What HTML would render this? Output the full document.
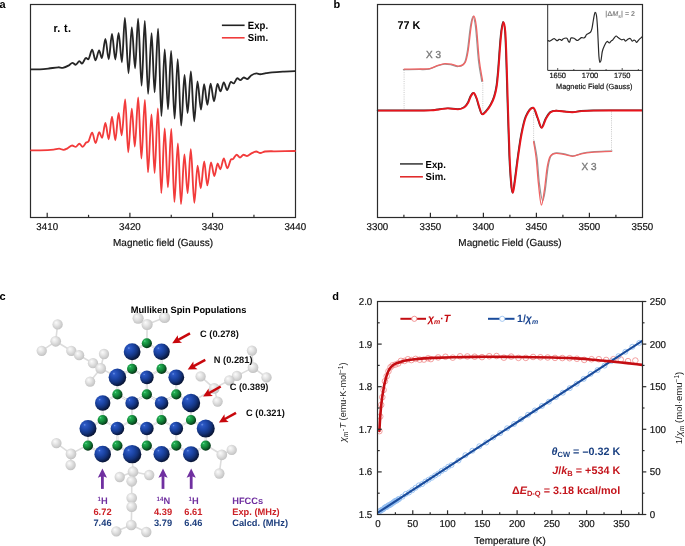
<!DOCTYPE html>
<html><head><meta charset="utf-8"><title>Figure</title>
<style>html,body{margin:0;padding:0;background:#fff;}body{width:685px;height:546px;overflow:hidden;font-family:"Liberation Sans",sans-serif;}svg{display:block;will-change:transform;}</style>
</head><body>
<svg width="685" height="546" viewBox="0 0 685 546" font-family="'Liberation Sans', sans-serif"><defs>
<radialGradient id="gbl" cx="0.36" cy="0.34" r="0.78" fx="0.3" fy="0.28">
<stop offset="0" stop-color="#6e96e8"/><stop offset="0.1" stop-color="#2c58c4"/><stop offset="0.38" stop-color="#1b44a4"/><stop offset="0.6" stop-color="#14337c"/><stop offset="0.8" stop-color="#0b1c48"/><stop offset="1" stop-color="#040814"/></radialGradient>
<radialGradient id="ggr" cx="0.36" cy="0.34" r="0.78" fx="0.3" fy="0.28">
<stop offset="0" stop-color="#74e6a0"/><stop offset="0.12" stop-color="#24ae56"/><stop offset="0.38" stop-color="#16923e"/><stop offset="0.6" stop-color="#0e6e30"/><stop offset="0.8" stop-color="#07441c"/><stop offset="1" stop-color="#021a0a"/></radialGradient>
<radialGradient id="gg" cx="0.45" cy="0.45" r="0.6" fx="0.35" fy="0.32">
<stop offset="0" stop-color="#fbfbfb"/><stop offset="0.4" stop-color="#e6e6e6"/><stop offset="0.82" stop-color="#cbcbcb"/><stop offset="1" stop-color="#bababa"/></radialGradient>
</defs>
<rect width="685" height="546" fill="#fff"/>
<g stroke="#dcdcdc" stroke-width="1.6" stroke-linecap="round">
<line x1="146.9" y1="343" x2="147.1" y2="324.5"/>
<line x1="147.1" y1="324.5" x2="138.1" y2="318.3"/>
<line x1="147.1" y1="324.5" x2="164.6" y2="317.5"/>
<line x1="57.6" y1="324.4" x2="55.7" y2="341.3"/>
<line x1="55.7" y1="341.3" x2="41.7" y2="350.8"/>
<line x1="55.7" y1="341.3" x2="71.3" y2="350.8"/>
<line x1="71.3" y1="350.8" x2="79.1" y2="355.2"/>
<line x1="79.1" y1="355.2" x2="93" y2="363.2"/>
<line x1="93" y1="363.2" x2="100.7" y2="368.4"/>
<line x1="100.7" y1="368.4" x2="104" y2="354"/>
<line x1="100.7" y1="368.4" x2="90.1" y2="381.6"/>
<line x1="100.7" y1="368.4" x2="117.4" y2="377"/>
<line x1="251.9" y1="350.6" x2="253" y2="367.6"/>
<line x1="253" y1="367.6" x2="266.5" y2="377.4"/>
<line x1="253" y1="367.6" x2="236.9" y2="375.9"/>
<line x1="236.9" y1="375.9" x2="229.3" y2="380.3"/>
<line x1="229.3" y1="380.3" x2="214.2" y2="388.4"/>
<line x1="214.2" y1="388.4" x2="200.6" y2="376.4"/>
<line x1="214.2" y1="388.4" x2="217.6" y2="401.6"/>
<line x1="214.2" y1="388.4" x2="191.15" y2="402.5"/>
<line x1="87.9" y1="445" x2="71" y2="453.9"/>
<line x1="71" y1="453.9" x2="56.4" y2="443.1"/>
<line x1="71" y1="453.9" x2="70.6" y2="465"/>
<line x1="132.15" y1="453.5" x2="133" y2="471.7"/>
<line x1="133" y1="471.7" x2="119.7" y2="477"/>
<line x1="133" y1="471.7" x2="149.2" y2="475"/>
<line x1="133" y1="471.7" x2="131.7" y2="481.3"/>
<line x1="131.7" y1="481.3" x2="131.7" y2="498"/>
<line x1="131.7" y1="498" x2="131.7" y2="506.7"/>
<line x1="131.7" y1="506.7" x2="131.3" y2="525"/>
<line x1="131.3" y1="525" x2="116.3" y2="531.3"/>
<line x1="131.3" y1="525" x2="146.3" y2="532"/>
<line x1="205.9" y1="445" x2="221.8" y2="454.8"/>
<line x1="221.8" y1="454.8" x2="231.7" y2="449.9"/>
<line x1="221.8" y1="454.8" x2="219.3" y2="473.5"/>
</g>
<circle cx="138.1" cy="318.3" r="5.55" fill="url(#gg)"/>
<circle cx="147.1" cy="324.5" r="5.55" fill="url(#gg)"/>
<circle cx="164.6" cy="317.5" r="5.55" fill="url(#gg)"/>
<circle cx="57.6" cy="324.4" r="5.15" fill="url(#gg)"/>
<circle cx="55.7" cy="341.3" r="5.35" fill="url(#gg)"/>
<circle cx="41.7" cy="350.8" r="5.15" fill="url(#gg)"/>
<circle cx="71.3" cy="350.8" r="5.15" fill="url(#gg)"/>
<circle cx="79.1" cy="355.2" r="5.15" fill="url(#gg)"/>
<circle cx="93" cy="363.2" r="5.15" fill="url(#gg)"/>
<circle cx="100.7" cy="368.4" r="5.35" fill="url(#gg)"/>
<circle cx="104" cy="354" r="5.15" fill="url(#gg)"/>
<circle cx="90.1" cy="381.6" r="5.15" fill="url(#gg)"/>
<circle cx="251.9" cy="350.6" r="5.15" fill="url(#gg)"/>
<circle cx="253" cy="367.6" r="5.35" fill="url(#gg)"/>
<circle cx="266.5" cy="377.4" r="5.15" fill="url(#gg)"/>
<circle cx="236.9" cy="375.9" r="5.15" fill="url(#gg)"/>
<circle cx="229.3" cy="380.3" r="5.15" fill="url(#gg)"/>
<circle cx="214.2" cy="388.4" r="5.35" fill="url(#gg)"/>
<circle cx="200.6" cy="376.4" r="5.15" fill="url(#gg)"/>
<circle cx="217.6" cy="401.6" r="5.15" fill="url(#gg)"/>
<circle cx="56.4" cy="443.1" r="5.15" fill="url(#gg)"/>
<circle cx="71" cy="453.9" r="5.35" fill="url(#gg)"/>
<circle cx="70.6" cy="465" r="5.15" fill="url(#gg)"/>
<circle cx="133" cy="471.7" r="5.35" fill="url(#gg)"/>
<circle cx="119.7" cy="477" r="5.15" fill="url(#gg)"/>
<circle cx="149.2" cy="475" r="5.15" fill="url(#gg)"/>
<circle cx="131.7" cy="481.3" r="5.35" fill="url(#gg)"/>
<circle cx="131.7" cy="498" r="5.35" fill="url(#gg)"/>
<circle cx="131.7" cy="506.7" r="5.35" fill="url(#gg)"/>
<circle cx="131.3" cy="525" r="5.35" fill="url(#gg)"/>
<circle cx="116.3" cy="531.3" r="5.15" fill="url(#gg)"/>
<circle cx="146.3" cy="532" r="5.15" fill="url(#gg)"/>
<circle cx="221.8" cy="454.8" r="5.35" fill="url(#gg)"/>
<circle cx="231.7" cy="449.9" r="5.15" fill="url(#gg)"/>
<circle cx="219.3" cy="473.5" r="5.15" fill="url(#gg)"/>
<g stroke="#d2d2d2" stroke-width="2.0" stroke-linecap="round">
<line x1="146.8" y1="394.4" x2="161.6" y2="403"/>
<line x1="191" y1="420" x2="205.7" y2="428.5"/>
<line x1="132.1" y1="351.8" x2="132.1" y2="368.8"/>
<line x1="146.8" y1="377.4" x2="146.8" y2="394.4"/>
<line x1="161.6" y1="402.9" x2="176.3" y2="394.4"/>
<line x1="146.8" y1="343.2" x2="161.6" y2="351.8"/>
<line x1="161.6" y1="351.8" x2="161.6" y2="368.8"/>
<line x1="102.7" y1="420" x2="117.4" y2="428.5"/>
<line x1="146.8" y1="428.5" x2="161.6" y2="420"/>
<line x1="117.4" y1="377.4" x2="132.1" y2="368.8"/>
<line x1="117.4" y1="394.4" x2="132.1" y2="403"/>
<line x1="161.6" y1="403" x2="161.6" y2="420"/>
<line x1="132.1" y1="351.8" x2="146.8" y2="343.2"/>
<line x1="88" y1="428.5" x2="102.7" y2="420"/>
<line x1="191" y1="403" x2="191" y2="420"/>
<line x1="161.6" y1="368.8" x2="176.3" y2="377.4"/>
<line x1="205.7" y1="428.5" x2="205.7" y2="445.6"/>
<line x1="88" y1="445.6" x2="102.7" y2="454.1"/>
<line x1="132.1" y1="402.9" x2="146.8" y2="394.4"/>
<line x1="117.4" y1="377.4" x2="117.4" y2="394.4"/>
<line x1="161.6" y1="420" x2="176.3" y2="428.5"/>
<line x1="102.7" y1="403" x2="102.7" y2="420"/>
<line x1="146.8" y1="377.4" x2="161.6" y2="368.8"/>
<line x1="132.1" y1="454.1" x2="146.8" y2="445.6"/>
<line x1="132.1" y1="420" x2="146.8" y2="428.5"/>
<line x1="161.6" y1="454.1" x2="176.3" y2="445.6"/>
<line x1="176.3" y1="377.4" x2="176.3" y2="394.4"/>
<line x1="132.1" y1="403" x2="132.1" y2="420"/>
<line x1="176.3" y1="428.5" x2="191" y2="420"/>
<line x1="117.4" y1="445.6" x2="132.1" y2="454.1"/>
<line x1="146.8" y1="428.5" x2="146.8" y2="445.6"/>
<line x1="146.8" y1="445.6" x2="161.6" y2="454.1"/>
<line x1="117.4" y1="428.5" x2="132.1" y2="420"/>
<line x1="161.6" y1="403" x2="176.3" y2="394.4"/>
<line x1="146.8" y1="394.4" x2="161.6" y2="402.9"/>
<line x1="176.3" y1="445.6" x2="191" y2="454.1"/>
<line x1="132.1" y1="403" x2="146.8" y2="394.4"/>
<line x1="88" y1="428.5" x2="88" y2="445.6"/>
<line x1="117.4" y1="428.5" x2="117.4" y2="445.6"/>
<line x1="176.3" y1="394.4" x2="191" y2="403"/>
<line x1="117.4" y1="394.4" x2="132.1" y2="402.9"/>
<line x1="132.1" y1="368.8" x2="146.8" y2="377.4"/>
<line x1="191" y1="454.1" x2="205.7" y2="445.6"/>
<line x1="102.7" y1="454.1" x2="117.4" y2="445.6"/>
<line x1="176.3" y1="428.5" x2="176.3" y2="445.6"/>
<line x1="102.7" y1="403" x2="117.4" y2="394.4"/>
</g>
<g stroke="#f8f8f8" stroke-width="0.8">
<line x1="146.8" y1="394.4" x2="161.6" y2="403"/>
<line x1="191" y1="420" x2="205.7" y2="428.5"/>
<line x1="132.1" y1="351.8" x2="132.1" y2="368.8"/>
<line x1="146.8" y1="377.4" x2="146.8" y2="394.4"/>
<line x1="161.6" y1="402.9" x2="176.3" y2="394.4"/>
<line x1="146.8" y1="343.2" x2="161.6" y2="351.8"/>
<line x1="161.6" y1="351.8" x2="161.6" y2="368.8"/>
<line x1="102.7" y1="420" x2="117.4" y2="428.5"/>
<line x1="146.8" y1="428.5" x2="161.6" y2="420"/>
<line x1="117.4" y1="377.4" x2="132.1" y2="368.8"/>
<line x1="117.4" y1="394.4" x2="132.1" y2="403"/>
<line x1="161.6" y1="403" x2="161.6" y2="420"/>
<line x1="132.1" y1="351.8" x2="146.8" y2="343.2"/>
<line x1="88" y1="428.5" x2="102.7" y2="420"/>
<line x1="191" y1="403" x2="191" y2="420"/>
<line x1="161.6" y1="368.8" x2="176.3" y2="377.4"/>
<line x1="205.7" y1="428.5" x2="205.7" y2="445.6"/>
<line x1="88" y1="445.6" x2="102.7" y2="454.1"/>
<line x1="132.1" y1="402.9" x2="146.8" y2="394.4"/>
<line x1="117.4" y1="377.4" x2="117.4" y2="394.4"/>
<line x1="161.6" y1="420" x2="176.3" y2="428.5"/>
<line x1="102.7" y1="403" x2="102.7" y2="420"/>
<line x1="146.8" y1="377.4" x2="161.6" y2="368.8"/>
<line x1="132.1" y1="454.1" x2="146.8" y2="445.6"/>
<line x1="132.1" y1="420" x2="146.8" y2="428.5"/>
<line x1="161.6" y1="454.1" x2="176.3" y2="445.6"/>
<line x1="176.3" y1="377.4" x2="176.3" y2="394.4"/>
<line x1="132.1" y1="403" x2="132.1" y2="420"/>
<line x1="176.3" y1="428.5" x2="191" y2="420"/>
<line x1="117.4" y1="445.6" x2="132.1" y2="454.1"/>
<line x1="146.8" y1="428.5" x2="146.8" y2="445.6"/>
<line x1="146.8" y1="445.6" x2="161.6" y2="454.1"/>
<line x1="117.4" y1="428.5" x2="132.1" y2="420"/>
<line x1="161.6" y1="403" x2="176.3" y2="394.4"/>
<line x1="146.8" y1="394.4" x2="161.6" y2="402.9"/>
<line x1="176.3" y1="445.6" x2="191" y2="454.1"/>
<line x1="132.1" y1="403" x2="146.8" y2="394.4"/>
<line x1="88" y1="428.5" x2="88" y2="445.6"/>
<line x1="117.4" y1="428.5" x2="117.4" y2="445.6"/>
<line x1="176.3" y1="394.4" x2="191" y2="403"/>
<line x1="117.4" y1="394.4" x2="132.1" y2="402.9"/>
<line x1="132.1" y1="368.8" x2="146.8" y2="377.4"/>
<line x1="191" y1="454.1" x2="205.7" y2="445.6"/>
<line x1="102.7" y1="454.1" x2="117.4" y2="445.6"/>
<line x1="176.3" y1="428.5" x2="176.3" y2="445.6"/>
<line x1="102.7" y1="403" x2="117.4" y2="394.4"/>
</g>
<circle cx="146.85" cy="343.24" r="5.1" fill="url(#ggr)"/>
<circle cx="161.57" cy="351.77" r="8.2" fill="url(#gbl)"/>
<circle cx="132.13" cy="351.77" r="8.4" fill="url(#gbl)"/>
<circle cx="161.57" cy="368.83" r="5.1" fill="url(#ggr)"/>
<circle cx="132.13" cy="368.83" r="5.1" fill="url(#ggr)"/>
<circle cx="146.85" cy="377.36" r="6.8" fill="url(#gbl)"/>
<circle cx="117.41" cy="377.36" r="8.8" fill="url(#gbl)"/>
<circle cx="176.29" cy="377.36" r="7.9" fill="url(#gbl)"/>
<circle cx="146.85" cy="394.42" r="5.1" fill="url(#ggr)"/>
<circle cx="117.41" cy="394.42" r="5.1" fill="url(#ggr)"/>
<circle cx="176.29" cy="394.42" r="5.1" fill="url(#ggr)"/>
<circle cx="132.13" cy="402.95" r="6.8" fill="url(#gbl)"/>
<circle cx="161.57" cy="402.95" r="6.8" fill="url(#gbl)"/>
<circle cx="102.69" cy="402.95" r="7.7" fill="url(#gbl)"/>
<circle cx="191.01" cy="402.95" r="9.2" fill="url(#gbl)"/>
<circle cx="132.13" cy="420.01" r="5.1" fill="url(#ggr)"/>
<circle cx="102.69" cy="420.01" r="5.1" fill="url(#ggr)"/>
<circle cx="161.57" cy="420.01" r="5.1" fill="url(#ggr)"/>
<circle cx="191.01" cy="420.01" r="5.1" fill="url(#ggr)"/>
<circle cx="117.41" cy="428.54" r="6.8" fill="url(#gbl)"/>
<circle cx="146.85" cy="428.54" r="6.8" fill="url(#gbl)"/>
<circle cx="176.29" cy="428.54" r="6.8" fill="url(#gbl)"/>
<circle cx="87.97" cy="428.54" r="8.5" fill="url(#gbl)"/>
<circle cx="205.73" cy="428.54" r="9" fill="url(#gbl)"/>
<circle cx="117.41" cy="445.6" r="5.1" fill="url(#ggr)"/>
<circle cx="87.97" cy="445.6" r="5.1" fill="url(#ggr)"/>
<circle cx="146.85" cy="445.6" r="5.1" fill="url(#ggr)"/>
<circle cx="176.29" cy="445.6" r="5.1" fill="url(#ggr)"/>
<circle cx="205.73" cy="445.6" r="5.1" fill="url(#ggr)"/>
<circle cx="102.69" cy="454.13" r="8.3" fill="url(#gbl)"/>
<circle cx="132.13" cy="454.13" r="9.2" fill="url(#gbl)"/>
<circle cx="161.57" cy="454.13" r="8.1" fill="url(#gbl)"/>
<circle cx="191.01" cy="454.13" r="8" fill="url(#gbl)"/>
<line x1="190" y1="333.4" x2="177.76" y2="340.21" stroke="#c8070c" stroke-width="2.5"/>
<polygon points="172.2,343.3 177.75,335.18 178.2,339.96 182.03,342.87" fill="#c8070c"/>
<line x1="205.3" y1="359.9" x2="193.29" y2="366.45" stroke="#c8070c" stroke-width="2.5"/>
<polygon points="187.7,369.5 193.32,361.42 193.73,366.21 197.53,369.15" fill="#c8070c"/>
<line x1="220.7" y1="386.5" x2="208.62" y2="393.43" stroke="#c8070c" stroke-width="2.5"/>
<polygon points="203.1,396.6 208.54,388.4 209.05,393.18 212.92,396.04" fill="#c8070c"/>
<line x1="236" y1="412.8" x2="224.45" y2="419.28" stroke="#c8070c" stroke-width="2.5"/>
<polygon points="218.9,422.4 224.42,414.26 224.89,419.04 228.73,421.93" fill="#c8070c"/>
<line x1="102.4" y1="488.9" x2="102.4" y2="475.5" stroke="#7030a0" stroke-width="2.8"/>
<polygon points="102.4,468.6 107,477.8 102.4,476 97.8,477.8" fill="#7030a0"/>
<line x1="163" y1="488.9" x2="163" y2="475.5" stroke="#7030a0" stroke-width="2.8"/>
<polygon points="163,468.6 167.6,477.8 163,476 158.4,477.8" fill="#7030a0"/>
<line x1="191.2" y1="488.9" x2="191.2" y2="475.5" stroke="#7030a0" stroke-width="2.8"/>
<polygon points="191.2,468.6 195.8,477.8 191.2,476 186.6,477.8" fill="#7030a0"/>
<text transform="translate(102.6,503.5) scale(1,1.0) skewX(0.1)" font-size="9.3" font-weight="bold" text-anchor="middle" fill="#7030a0"><tspan font-size="6.2" dy="-2.8">1</tspan><tspan dy="2.8">H</tspan></text>
<text transform="translate(163.4,503.5) scale(1,1.0) skewX(0.1)" font-size="9.3" font-weight="bold" text-anchor="middle" fill="#7030a0"><tspan font-size="6.2" dy="-2.8">14</tspan><tspan dy="2.8">N</tspan></text>
<text transform="translate(193.5,503.5) scale(1,1.0) skewX(0.1)" font-size="9.3" font-weight="bold" text-anchor="middle" fill="#7030a0"><tspan font-size="6.2" dy="-2.8">1</tspan><tspan dy="2.8">H</tspan></text>
<text transform="translate(102.5,515) scale(1,1.0) skewX(0.1)" font-size="9.3" font-weight="bold" text-anchor="middle" fill="#cc2127">6.72</text>
<text transform="translate(102.5,526.4) scale(1,1.0) skewX(0.1)" font-size="9.3" font-weight="bold" text-anchor="middle" fill="#1e3f7e">7.46</text>
<text transform="translate(163,515) scale(1,1.0) skewX(0.1)" font-size="9.3" font-weight="bold" text-anchor="middle" fill="#cc2127">4.39</text>
<text transform="translate(163,526.4) scale(1,1.0) skewX(0.1)" font-size="9.3" font-weight="bold" text-anchor="middle" fill="#1e3f7e">3.79</text>
<text transform="translate(193.4,515) scale(1,1.0) skewX(0.1)" font-size="9.3" font-weight="bold" text-anchor="middle" fill="#cc2127">6.61</text>
<text transform="translate(193.4,526.4) scale(1,1.0) skewX(0.1)" font-size="9.3" font-weight="bold" text-anchor="middle" fill="#1e3f7e">6.46</text>
<text transform="translate(232.2,503.5) scale(1,1.0) skewX(0.1)" font-size="9.3" font-weight="bold" fill="#7030a0">HFCCs</text>
<text transform="translate(232.2,515) scale(1,1.0) skewX(0.1)" font-size="9.3" font-weight="bold" fill="#cc2127">Exp. (MHz)</text>
<text transform="translate(232.2,526.4) scale(1,1.0) skewX(0.1)" font-size="9.3" font-weight="bold" fill="#1e3f7e">Calcd. (MHz)</text>
<text transform="translate(200,336.6) scale(1,1.0) skewX(0.1)" font-size="9.3" font-weight="bold" fill="#111">C (0.278)</text>
<text transform="translate(213.8,363.2) scale(1,1.0) skewX(0.1)" font-size="9.3" font-weight="bold" fill="#111">N (0.281)</text>
<text transform="translate(229.7,389.6) scale(1,1.0) skewX(0.1)" font-size="9.3" font-weight="bold" fill="#111">C (0.389)</text>
<text transform="translate(246,416.2) scale(1,1.0) skewX(0.1)" font-size="9.3" font-weight="bold" fill="#111">C (0.321)</text>
<text transform="translate(-0.5,8.2) scale(1,1) skewX(0.1)" font-size="11" font-weight="bold" text-anchor="start" fill="#000" >a</text>
<rect x="30.5" y="4.5" width="265" height="213" fill="none" stroke="#2b2b2b" stroke-width="1.2"/>
<line x1="47.2" y1="217.5" x2="47.2" y2="212.8" stroke="#2b2b2b" stroke-width="1.2" />
<line x1="129.9" y1="217.5" x2="129.9" y2="212.8" stroke="#2b2b2b" stroke-width="1.2" />
<line x1="212.6" y1="217.5" x2="212.6" y2="212.8" stroke="#2b2b2b" stroke-width="1.2" />
<line x1="88.55" y1="217.5" x2="88.55" y2="214.8" stroke="#2b2b2b" stroke-width="1.2" />
<line x1="171.25" y1="217.5" x2="171.25" y2="214.8" stroke="#2b2b2b" stroke-width="1.2" />
<line x1="253.95" y1="217.5" x2="253.95" y2="214.8" stroke="#2b2b2b" stroke-width="1.2" />
<text transform="translate(47.2,230) scale(1,1.02) skewX(0.1)" font-size="9.8" font-weight="normal" text-anchor="middle" fill="#111" stroke="#111" stroke-width="0.18">3410</text>
<text transform="translate(129.9,230) scale(1,1.02) skewX(0.1)" font-size="9.8" font-weight="normal" text-anchor="middle" fill="#111" stroke="#111" stroke-width="0.18">3420</text>
<text transform="translate(212.6,230) scale(1,1.02) skewX(0.1)" font-size="9.8" font-weight="normal" text-anchor="middle" fill="#111" stroke="#111" stroke-width="0.18">3430</text>
<text transform="translate(295.3,230) scale(1,1.02) skewX(0.1)" font-size="9.8" font-weight="normal" text-anchor="middle" fill="#111" stroke="#111" stroke-width="0.18">3440</text>
<text transform="translate(163,246.2) scale(1,1.02) skewX(0.1)" font-size="10" font-weight="normal" text-anchor="middle" fill="#111" stroke="#111" stroke-width="0.18">Magnetic field (Gauss)</text>
<text transform="translate(53.4,31.6) scale(1,1.05) skewX(0.1)" font-size="10.8" font-weight="bold" text-anchor="start" fill="#000" letter-spacing="0.35">r. t.</text>
<line x1="221.9" y1="25.3" x2="244.6" y2="25.3" stroke="#222" stroke-width="1.6" />
<text transform="translate(247.8,28.8) scale(1,1.1) skewX(0.1)" font-size="9.6" font-weight="bold" text-anchor="start" fill="#000" >Exp.</text>
<line x1="221.9" y1="37.8" x2="244.6" y2="37.8" stroke="#f03c3c" stroke-width="1.6" />
<text transform="translate(247.8,41.3) scale(1,1.06) skewX(0.1)" font-size="9.6" font-weight="bold" text-anchor="start" fill="#000" >Sim.</text>
<path d="M31,69.4 C34,69.37 37,69.45 40,69.3 C42.93,69.15 45.87,68.82 48.8,68.5 C52,68.15 55.2,67.46 58.4,67.3 C59.87,67.23 61.33,68.07 62.8,67.8 C64.83,67.43 66.87,66.46 68.9,65.4 C70.07,64.79 71.23,62.8 72.4,62.8 C73.5,62.8 74.6,64.7 75.7,64.7 C76.93,64.7 78.17,61.2 79.4,61.2 C80.27,61.2 81.13,63.5 82,63.5 C83.33,63.5 84.67,58 86,58 C86.73,58 87.47,59.4 88.2,59.4 C89.53,59.4 90.87,49.7 92.2,49.7 C93.3,49.7 94.4,60.3 95.5,60.3 C96.7,60.3 97.9,50.5 99.1,50.5 C100.03,50.5 100.97,58.1 101.9,58.1 C103.07,58.1 104.23,38.8 105.4,38.8 C106.5,38.8 107.6,59.2 108.7,59.2 C109.8,59.2 110.9,34 112,34 C113.1,34 114.2,59.5 115.3,59.5 C116.4,59.5 117.5,32.9 118.6,32.9 C119.7,32.9 120.8,62.2 121.9,62.2 C122.9,62.2 123.9,17.9 124.9,17.9 C126.1,17.9 127.3,73.2 128.5,73.2 C129.6,73.2 130.7,27.3 131.8,27.3 C132.9,27.3 134,68.3 135.1,68.3 C136.1,68.3 137.1,18.7 138.1,18.7 C139.27,18.7 140.43,85.7 141.6,85.7 C142.67,85.7 143.73,20.9 144.8,20.9 C145.9,20.9 147,93.8 148.1,93.8 C149.27,93.8 150.43,33.1 151.6,33.1 C152.6,33.1 153.6,92.4 154.6,92.4 C155.77,92.4 156.93,28.7 158.1,28.7 C159.2,28.7 160.3,116 161.4,116 C162.5,116 163.6,49.3 164.7,49.3 C165.8,49.3 166.9,109.3 168,109.3 C169.03,109.3 170.07,51 171.1,51 C172.27,51 173.43,118.6 174.6,118.6 C175.63,118.6 176.67,59.1 177.7,59.1 C178.87,59.1 180.03,125.6 181.2,125.6 C182.3,125.6 183.4,74.9 184.5,74.9 C185.53,74.9 186.57,113 187.6,113 C188.7,113 189.8,71.4 190.9,71.4 C192,71.4 193.1,121.2 194.2,121.2 C195.3,121.2 196.4,81.5 197.5,81.5 C198.67,81.5 199.83,109.6 201,109.6 C202.03,109.6 203.07,84.3 204.1,84.3 C205.2,84.3 206.3,104.9 207.4,104.9 C208.47,104.9 209.53,83.6 210.6,83.6 C211.73,83.6 212.87,101.3 214,101.3 C215.17,101.3 216.33,84 217.5,84 C218.5,84 219.5,91.4 220.5,91.4 C221.6,91.4 222.7,82.3 223.8,82.3 C224.9,82.3 226,90 227.1,90 C228.37,90 229.63,81.9 230.9,81.9 C231.8,81.9 232.7,83.4 233.6,83.4 C234.83,83.4 236.07,78.2 237.3,78.2 C238.3,78.2 239.3,80.1 240.3,80.1 C241.47,80.1 242.63,77.5 243.8,77.5 C245,77.5 246.2,79 247.4,79 C248.63,79 249.87,76.25 251.1,75.5 C252.93,74.38 254.77,73.4 256.6,73.4 C257.73,73.4 258.87,74.2 260,74.2 C262,74.2 264,73.5 266,73.2 C268.03,72.9 270.07,72.58 272.1,72.4 C276.17,72.04 280.23,71.83 284.3,71.6 C287.87,71.4 291.43,71.27 295,71.1" fill="none" stroke="#262626" stroke-width="1.85" stroke-linejoin="round" stroke-linecap="round" />
<path d="M31,150.3 C34,150.3 37,150.39 40,150.3 C44.57,150.16 49.13,149.98 53.7,149.6 C55.53,149.45 57.37,148.66 59.2,148.7 C60.67,148.73 62.13,149.87 63.6,149.8 C64.9,149.74 66.2,148.95 67.5,148.3 C69.07,147.52 70.63,145.5 72.2,145.5 C73.37,145.5 74.53,146.9 75.7,146.9 C76.93,146.9 78.17,143.7 79.4,143.7 C80.47,143.7 81.53,146.8 82.6,146.8 C83.8,146.8 85,143.58 86.2,142.5 C86.93,141.84 87.67,142.8 88.4,141.6 C89.67,139.53 90.93,132.7 92.2,132.7 C93.33,132.7 94.47,143.1 95.6,143.1 C96.8,143.1 98,132.2 99.2,132.2 C100.17,132.2 101.13,137.8 102.1,137.8 C103.2,137.8 104.3,123 105.4,123 C106.5,123 107.6,139.2 108.7,139.2 C109.8,139.2 110.9,116.6 112,116.6 C113.1,116.6 114.2,140.3 115.3,140.3 C116.4,140.3 117.5,112.9 118.6,112.9 C119.63,112.9 120.67,135.3 121.7,135.3 C122.87,135.3 124.03,99.3 125.2,99.3 C126.2,99.3 127.2,152.3 128.2,152.3 C129.4,152.3 130.6,108.7 131.8,108.7 C132.8,108.7 133.8,146.6 134.8,146.6 C135.93,146.6 137.07,97.5 138.2,97.5 C139.27,97.5 140.33,158.5 141.4,158.5 C142.57,158.5 143.73,99.8 144.9,99.8 C145.93,99.8 146.97,172.4 148,172.4 C149.17,172.4 150.33,114.5 151.5,114.5 C152.53,114.5 153.57,173 154.6,173 C155.7,173 156.8,108.5 157.9,108.5 C159.03,108.5 160.17,193.1 161.3,193.1 C162.43,193.1 163.57,128.5 164.7,128.5 C165.77,128.5 166.83,187.4 167.9,187.4 C169.03,187.4 170.17,129 171.3,129 C172.33,129 173.37,201.9 174.4,201.9 C175.57,201.9 176.73,143.4 177.9,143.4 C178.93,143.4 179.97,204.1 181,204.1 C182.13,204.1 183.27,154.4 184.4,154.4 C185.47,154.4 186.53,193.1 187.6,193.1 C188.67,193.1 189.73,149.2 190.8,149.2 C191.97,149.2 193.13,202.8 194.3,202.8 C195.4,202.8 196.5,165.6 197.6,165.6 C198.63,165.6 199.67,188.3 200.7,188.3 C201.87,188.3 203.03,161.4 204.2,161.4 C205.23,161.4 206.27,185.4 207.3,185.4 C208.53,185.4 209.77,162.3 211,162.3 C212.1,162.3 213.2,176 214.3,176 C215.43,176 216.57,163.5 217.7,163.5 C218.57,163.5 219.43,169.3 220.3,169.3 C221.47,169.3 222.63,158.5 223.8,158.5 C224.97,158.5 226.13,168.3 227.3,168.3 C228.47,168.3 229.63,161.58 230.8,159.7 C231.53,158.52 232.27,159.72 233,159.1 C234.23,158.05 235.47,154.7 236.7,154.7 C237.8,154.7 238.9,157.6 240,157.6 C241.17,157.6 242.33,154.7 243.5,154.7 C244.67,154.7 245.83,156 247,156 C248.47,156 249.93,154.12 251.4,153.4 C253,152.62 254.6,151.5 256.2,151.5 C257.53,151.5 258.87,153 260.2,153 C261.8,153 263.4,151.68 265,151.5 C268.33,151.12 271.67,151.36 275,151.3 C281.67,151.19 288.33,151.1 295,151" fill="none" stroke="#f23b3b" stroke-width="1.85" stroke-linejoin="round" stroke-linecap="round" />
<text transform="translate(333.6,8.2) scale(1,1) skewX(0.1)" font-size="11" font-weight="bold" text-anchor="start" fill="#000" >b</text>
<line x1="404.1" y1="70" x2="404.1" y2="110" stroke="#bbbbbb" stroke-width="0.8" stroke-dasharray="1,1.2"/>
<line x1="482.8" y1="81" x2="482.8" y2="113" stroke="#bbbbbb" stroke-width="0.8" stroke-dasharray="1,1.2"/>
<line x1="533.6" y1="108.5" x2="533.6" y2="141" stroke="#bbbbbb" stroke-width="0.8" stroke-dasharray="1,1.2"/>
<line x1="611.5" y1="111.5" x2="611.5" y2="151" stroke="#bbbbbb" stroke-width="0.8" stroke-dasharray="1,1.2"/>
<path d="M403.4,69.7 C408.67,69.63 413.93,69.62 419.2,69.5 C422.47,69.42 425.73,69.78 429,69.1 C432,68.48 435,66.59 438,65.6 C440.07,64.92 442.13,64.23 444.2,64.1 C446.53,63.96 448.87,64.4 451.2,64.8 C453.57,65.2 455.93,66.84 458.3,66.5 C460.33,66.21 462.37,66.41 464.4,62.9 C465.4,61.17 466.4,56.85 467.4,50.8 C468.4,44.75 469.4,32.84 470.4,26.6 C471.23,21.4 472.07,16.5 472.9,16.5 C473.77,16.5 474.63,19.73 475.5,26.6 C476.5,34.53 477.5,52.22 478.5,60.9 C479.6,70.45 480.7,74.5 481.8,81.3" fill="none" stroke="#959595" stroke-width="1.25" stroke-linejoin="round" stroke-linecap="round" />
<path d="M404.2,69.2 C409.47,69.13 414.73,69.12 420,69 C423.27,68.92 426.53,69.28 429.8,68.6 C432.8,67.98 435.8,66.09 438.8,65.1 C440.87,64.42 442.93,63.73 445,63.6 C447.33,63.46 449.67,63.9 452,64.3 C454.37,64.7 456.73,66.34 459.1,66 C461.13,65.71 463.17,65.91 465.2,62.4 C466.2,60.67 467.2,56.35 468.2,50.3 C469.2,44.25 470.2,32.34 471.2,26.1 C472.03,20.9 472.87,16 473.7,16 C474.57,16 475.43,19.23 476.3,26.1 C477.3,34.03 478.3,51.72 479.3,60.4 C480.4,69.95 481.5,74 482.6,80.8" fill="none" stroke="#f06464" stroke-width="1.3" stroke-linejoin="round" stroke-linecap="round" />
<path d="M534.1,141.2 C535.1,146.83 536.1,150.06 537.1,158.1 C537.83,163.99 538.57,177.43 539.3,183 C540.43,191.6 541.57,200.6 542.7,200.6 C543.53,200.6 544.37,195.52 545.2,190.3 C546.17,184.25 547.13,172.53 548.1,166.8 C549.07,161.07 550.03,157.43 551,155.9 C552.97,152.79 554.93,152.9 556.9,152.9 C559.33,152.9 561.77,153.45 564.2,153.9 C567.13,154.45 570.07,155.9 573,155.9 C575.93,155.9 578.87,154.01 581.8,153.4 C585.23,152.68 588.67,152.17 592.1,151.9 C598.7,151.37 605.3,151.3 611.9,151" fill="none" stroke="#959595" stroke-width="1.25" stroke-linejoin="round" stroke-linecap="round" />
<path d="M533.6,141.6 C534.47,147.23 535.33,150.95 536.2,158.5 C536.93,164.89 537.67,176.83 538.4,183.4 C539.4,192.36 540.4,205.1 541.4,205.1 C542.37,205.1 543.33,197.02 544.3,190.7 C545.27,184.38 546.23,172.84 547.2,167.2 C548.2,161.37 549.2,157.81 550.2,156.3 C552.27,153.18 554.33,153.3 556.4,153.3 C558.83,153.3 561.27,153.85 563.7,154.3 C566.63,154.85 569.57,156.3 572.5,156.3 C575.43,156.3 578.37,154.41 581.3,153.8 C584.73,153.08 588.17,152.57 591.6,152.3 C598.2,151.77 604.8,151.7 611.4,151.4" fill="none" stroke="#f06464" stroke-width="1.3" stroke-linejoin="round" stroke-linecap="round" />
<path d="M377.55,110.4 C386.22,110.4 394.88,110.43 403.55,110.4 C412.58,110.37 421.62,110.53 430.65,110.2 C433.62,110.09 436.58,109.45 439.55,109.1 C442.22,108.78 444.88,108.2 447.55,108.2 C450.88,108.2 454.22,109.1 457.55,109.1 C459.72,109.1 461.88,108.53 464.05,107.1 C465.32,106.26 466.58,104.5 467.85,102.3 C468.75,100.74 469.65,97.38 470.55,95.8 C471.45,94.22 472.35,92.8 473.25,92.8 C474.28,92.8 475.32,95.72 476.35,98.3 C477.25,100.55 478.15,104.7 479.05,107.3 C479.98,110 480.92,114.2 481.85,114.2 C483.25,114.2 484.65,112.39 486.05,110.8 C487.55,109.09 489.05,107.03 490.55,104.3 C491.68,102.23 492.82,100.01 493.95,96.4 C494.75,93.85 495.55,91.02 496.35,85.8 C496.88,82.32 497.42,76.57 497.95,70.3 C498.55,63.24 499.15,53.25 499.75,45.8 C500.18,40.42 500.62,34.94 501.05,31.8 C501.72,26.97 502.38,21.9 503.05,21.9 C503.68,21.9 504.32,24.06 504.95,31.8 C505.35,36.69 505.75,48.47 506.15,59.8 C506.55,71.13 506.95,87.15 507.35,99.8 C507.95,118.78 508.55,140.68 509.15,154.7 C509.75,168.72 510.35,176.99 510.95,183.9 C511.45,189.66 511.95,192.7 512.45,192.7 C513.02,192.7 513.58,187.8 514.15,183.9 C515.25,176.33 516.35,166.16 517.45,158.3 C518.65,149.73 519.85,140.75 521.05,134.6 C522.58,126.75 524.12,119.79 525.65,116.3 C528.08,110.76 530.52,107.5 532.95,107.5 C534.42,107.5 535.88,114.25 537.35,117.8 C538.65,120.95 539.95,127.6 541.25,127.6 C542.72,127.6 544.18,120.84 545.65,118.3 C547.18,115.64 548.72,113.09 550.25,112 C552.32,110.53 554.38,110.6 556.45,110.6 C558.98,110.6 561.52,111.17 564.05,111.4 C566.62,111.63 569.18,112 571.75,112 C574.82,112 577.88,111.13 580.95,110.9 C585.02,110.6 589.08,110.47 593.15,110.4 C600.82,110.27 608.48,110.32 616.15,110.3 C624.62,110.28 633.08,110.3 641.55,110.3" fill="none" stroke="#3a3a3a" stroke-width="1.6" stroke-linejoin="round" stroke-linecap="round" />
<path d="M378,110.6 C386.67,110.6 395.33,110.63 404,110.6 C413.03,110.57 422.07,110.73 431.1,110.4 C434.07,110.29 437.03,109.65 440,109.3 C442.67,108.98 445.33,108.4 448,108.4 C451.33,108.4 454.67,109.3 458,109.3 C460.17,109.3 462.33,108.73 464.5,107.3 C465.77,106.46 467.03,104.7 468.3,102.5 C469.2,100.94 470.1,97.58 471,96 C471.9,94.42 472.8,93 473.7,93 C474.73,93 475.77,95.92 476.8,98.5 C477.7,100.75 478.6,104.9 479.5,107.5 C480.43,110.2 481.37,114.4 482.3,114.4 C483.7,114.4 485.1,112.59 486.5,111 C488,109.29 489.5,107.23 491,104.5 C492.13,102.43 493.27,100.21 494.4,96.6 C495.2,94.05 496,91.22 496.8,86 C497.33,82.52 497.87,76.77 498.4,70.5 C499,63.44 499.6,53.45 500.2,46 C500.63,40.62 501.07,35.14 501.5,32 C502.17,27.17 502.83,22.1 503.5,22.1 C504.13,22.1 504.77,24.26 505.4,32 C505.8,36.89 506.2,48.67 506.6,60 C507,71.33 507.4,87.35 507.8,100 C508.4,118.98 509,140.88 509.6,154.9 C510.2,168.92 510.8,177.19 511.4,184.1 C511.9,189.86 512.4,192.9 512.9,192.9 C513.47,192.9 514.03,188 514.6,184.1 C515.7,176.53 516.8,166.36 517.9,158.5 C519.1,149.93 520.3,140.95 521.5,134.8 C523.03,126.95 524.57,119.99 526.1,116.5 C528.53,110.96 530.97,107.7 533.4,107.7 C534.87,107.7 536.33,114.45 537.8,118 C539.1,121.15 540.4,127.8 541.7,127.8 C543.17,127.8 544.63,121.04 546.1,118.5 C547.63,115.84 549.17,113.29 550.7,112.2 C552.77,110.73 554.83,110.8 556.9,110.8 C559.43,110.8 561.97,111.37 564.5,111.6 C567.07,111.83 569.63,112.2 572.2,112.2 C575.27,112.2 578.33,111.33 581.4,111.1 C585.47,110.8 589.53,110.67 593.6,110.6 C601.27,110.47 608.93,110.52 616.6,110.5 C625.07,110.48 633.53,110.5 642,110.5" fill="none" stroke="#e8141c" stroke-width="1.85" stroke-linejoin="round" stroke-linecap="round" />
<path d="M548.1,40.7 C548.67,40.83 549.23,41.23 549.8,41.1 C550.53,40.93 551.27,40.23 552,39.8 C552.73,39.37 553.47,38.54 554.2,38.5 C554.63,38.48 555.07,39.29 555.5,39.6 C556.1,40.03 556.7,40.75 557.3,40.7 C557.9,40.65 558.5,39.45 559.1,39.3 C559.67,39.15 560.23,39.56 560.8,39.8 C561.1,39.93 561.4,40.52 561.7,40.4 C562.13,40.22 562.57,39.14 563,38.9 C564.03,38.34 565.07,38 566.1,38 C566.53,38 566.97,38.29 567.4,38.9 C567.7,39.32 568,40.68 568.3,41.1 C568.73,41.71 569.17,42.47 569.6,42 C569.97,41.6 570.33,39.34 570.7,38.5 C570.93,37.97 571.17,37.92 571.4,37.9 C572.27,37.82 573.13,37.8 574,38.2 C575.03,38.67 576.07,40.29 577.1,40.5 C577.83,40.65 578.57,39.78 579.3,39.3 C580.03,38.82 580.77,37.82 581.5,37.6 C582.23,37.38 582.97,38.12 583.7,38 C584.2,37.92 584.7,37.62 585.2,37 C585.57,36.55 585.93,35.18 586.3,34.8 C587.17,33.91 588.03,33.77 588.9,33.2 C589.5,32.8 590.1,32.83 590.7,31.9 C591.13,31.23 591.57,30.3 592,28.4 C592.43,26.5 592.87,22.74 593.3,20.5 C593.9,17.4 594.5,12.4 595.1,12.4 C595.53,12.4 595.97,12.44 596.4,15 C596.73,16.97 597.07,20.91 597.4,26 C597.7,30.58 598,38 598.3,44 C598.5,48 598.7,53.55 598.9,56 C599.2,59.68 599.5,62.4 599.8,62.4 C600.2,62.4 600.6,62.14 601,60.4 C601.43,58.51 601.87,53.34 602.3,51.5 C603.03,48.38 603.77,47.03 604.5,45.5 C605.37,43.69 606.23,41.95 607.1,41.5 C607.83,41.12 608.57,43.07 609.3,43 C609.9,42.94 610.5,41.65 611.1,41.1 C611.67,40.58 612.23,40.38 612.8,39.8 C613.9,38.68 615,36.46 616.1,36 C616.77,35.72 617.43,37.14 618.1,37.6 C619.27,38.41 620.43,39.45 621.6,39.8 C622.33,40.02 623.07,39.06 623.8,39.3 C624.4,39.5 625,41.1 625.6,41.1 C626.33,41.1 627.07,39.71 627.8,39.3 C628.6,38.85 629.4,38.17 630.2,38.5 C630.87,38.77 631.53,40.79 632.2,41.1 C632.77,41.36 633.33,40.29 633.9,40.2 C634.37,40.12 634.83,40.22 635.3,40.6 C635.73,40.95 636.17,42.5 636.6,42.4 C637.33,42.23 638.07,40.53 638.8,39.8 C639.87,38.73 640.93,37.93 642,37" fill="none" stroke="#2a2a2a" stroke-width="1.2" stroke-linejoin="round" stroke-linecap="round" />
<rect x="377.5" y="4.5" width="265" height="213" fill="none" stroke="#2b2b2b" stroke-width="1.2"/>
<line x1="430.4" y1="217.5" x2="430.4" y2="212.8" stroke="#2b2b2b" stroke-width="1.2" />
<line x1="483.4" y1="217.5" x2="483.4" y2="212.8" stroke="#2b2b2b" stroke-width="1.2" />
<line x1="536.4" y1="217.5" x2="536.4" y2="212.8" stroke="#2b2b2b" stroke-width="1.2" />
<line x1="589.4" y1="217.5" x2="589.4" y2="212.8" stroke="#2b2b2b" stroke-width="1.2" />
<line x1="403.9" y1="217.5" x2="403.9" y2="214.8" stroke="#2b2b2b" stroke-width="1.2" />
<line x1="456.9" y1="217.5" x2="456.9" y2="214.8" stroke="#2b2b2b" stroke-width="1.2" />
<line x1="509.9" y1="217.5" x2="509.9" y2="214.8" stroke="#2b2b2b" stroke-width="1.2" />
<line x1="562.9" y1="217.5" x2="562.9" y2="214.8" stroke="#2b2b2b" stroke-width="1.2" />
<line x1="615.9" y1="217.5" x2="615.9" y2="214.8" stroke="#2b2b2b" stroke-width="1.2" />
<text transform="translate(377.4,230) scale(1,1.02) skewX(0.1)" font-size="9.8" font-weight="normal" text-anchor="middle" fill="#111" stroke="#111" stroke-width="0.18">3300</text>
<text transform="translate(430.4,230) scale(1,1.02) skewX(0.1)" font-size="9.8" font-weight="normal" text-anchor="middle" fill="#111" stroke="#111" stroke-width="0.18">3350</text>
<text transform="translate(483.4,230) scale(1,1.02) skewX(0.1)" font-size="9.8" font-weight="normal" text-anchor="middle" fill="#111" stroke="#111" stroke-width="0.18">3400</text>
<text transform="translate(536.4,230) scale(1,1.02) skewX(0.1)" font-size="9.8" font-weight="normal" text-anchor="middle" fill="#111" stroke="#111" stroke-width="0.18">3450</text>
<text transform="translate(589.4,230) scale(1,1.02) skewX(0.1)" font-size="9.8" font-weight="normal" text-anchor="middle" fill="#111" stroke="#111" stroke-width="0.18">3500</text>
<text transform="translate(642.4,230) scale(1,1.02) skewX(0.1)" font-size="9.8" font-weight="normal" text-anchor="middle" fill="#111" stroke="#111" stroke-width="0.18">3550</text>
<text transform="translate(510,246.2) scale(1,1.02) skewX(0.1)" font-size="10" font-weight="normal" text-anchor="middle" fill="#111" stroke="#111" stroke-width="0.18">Magnetic Field (Gauss)</text>
<text transform="translate(397.6,29) scale(1,1.03) skewX(0.1)" font-size="10.8" font-weight="bold" text-anchor="start" fill="#000" >77 K</text>
<text transform="translate(426,57.9) scale(1,1.02) skewX(0.1)" font-size="10" font-weight="normal" text-anchor="start" fill="#7a7a7a" stroke="#7a7a7a" stroke-width="0.35">X 3</text>
<text transform="translate(581.6,170.2) scale(1,1.02) skewX(0.1)" font-size="10" font-weight="normal" text-anchor="start" fill="#7a7a7a" stroke="#7a7a7a" stroke-width="0.35">X 3</text>
<line x1="400" y1="163.9" x2="422.9" y2="163.9" stroke="#555" stroke-width="1.8" />
<text transform="translate(425.6,167.8) scale(1,1.06) skewX(0.1)" font-size="9.6" font-weight="bold" text-anchor="start" fill="#000" >Exp.</text>
<line x1="400" y1="176.8" x2="422.9" y2="176.8" stroke="#e02020" stroke-width="1.5" />
<text transform="translate(425.6,180.4) scale(1,1.06) skewX(0.1)" font-size="9.6" font-weight="bold" text-anchor="start" fill="#000" >Sim.</text>
<line x1="547.7" y1="4" x2="547.7" y2="70.4" stroke="#2b2b2b" stroke-width="1" />
<line x1="547.7" y1="70.4" x2="642.5" y2="70.4" stroke="#2b2b2b" stroke-width="1" />
<line x1="557.7" y1="70.4" x2="557.7" y2="68" stroke="#2b2b2b" stroke-width="0.8" />
<line x1="589.95" y1="70.4" x2="589.95" y2="68" stroke="#2b2b2b" stroke-width="0.8" />
<line x1="622.2" y1="70.4" x2="622.2" y2="68" stroke="#2b2b2b" stroke-width="0.8" />
<line x1="573.83" y1="70.4" x2="573.83" y2="69" stroke="#2b2b2b" stroke-width="0.8" />
<line x1="606.08" y1="70.4" x2="606.08" y2="69" stroke="#2b2b2b" stroke-width="0.8" />
<line x1="638.33" y1="70.4" x2="638.33" y2="69" stroke="#2b2b2b" stroke-width="0.8" />
<text transform="translate(557.7,77.9) scale(1,1.02) skewX(0.1)" font-size="7.5" font-weight="normal" text-anchor="middle" fill="#111" stroke="#111" stroke-width="0.18">1650</text>
<text transform="translate(589.95,77.9) scale(1,1.02) skewX(0.1)" font-size="7.5" font-weight="normal" text-anchor="middle" fill="#111" stroke="#111" stroke-width="0.18">1700</text>
<text transform="translate(622.2,77.9) scale(1,1.02) skewX(0.1)" font-size="7.5" font-weight="normal" text-anchor="middle" fill="#111" stroke="#111" stroke-width="0.18">1750</text>
<text transform="translate(594.2,89.3) scale(1,1.02) skewX(0.1)" font-size="7.4" font-weight="normal" text-anchor="middle" fill="#111" stroke="#111" stroke-width="0.18">Magnetic Field (Gauss)</text>
<text transform="translate(605.2,16.3) scale(1,1) skewX(0.1)" font-size="7.1" font-weight="bold" text-anchor="start" fill="#858585" >|&#916;<tspan font-style="italic">M</tspan><tspan font-size="5" dy="1.6">s</tspan><tspan dy="-1.6">| = 2</tspan></text>
<text transform="translate(332.2,300) scale(1,1) skewX(0.1)" font-size="11" font-weight="bold" text-anchor="start" fill="#000" >d</text>
<clipPath id="cpd"><rect x="378.1" y="302" width="264" height="212"/></clipPath><g clip-path="url(#cpd)">
<circle cx="379.39" cy="511.23" r="2.5" fill="none" stroke="#92bdf0" stroke-width="0.9"/>
<circle cx="380.43" cy="510.86" r="2.5" fill="none" stroke="#92bdf0" stroke-width="0.9"/>
<circle cx="381.48" cy="510.01" r="2.5" fill="none" stroke="#92bdf0" stroke-width="0.9"/>
<circle cx="382.52" cy="509.57" r="2.5" fill="none" stroke="#92bdf0" stroke-width="0.9"/>
<circle cx="383.56" cy="508.91" r="2.5" fill="none" stroke="#92bdf0" stroke-width="0.9"/>
<circle cx="384.61" cy="507.67" r="2.5" fill="none" stroke="#92bdf0" stroke-width="0.9"/>
<circle cx="385.65" cy="506.94" r="2.5" fill="none" stroke="#92bdf0" stroke-width="0.9"/>
<circle cx="386.69" cy="507.09" r="2.5" fill="none" stroke="#92bdf0" stroke-width="0.9"/>
<circle cx="387.74" cy="505.83" r="2.5" fill="none" stroke="#92bdf0" stroke-width="0.9"/>
<circle cx="388.78" cy="505.13" r="2.5" fill="none" stroke="#92bdf0" stroke-width="0.9"/>
<circle cx="389.82" cy="505.21" r="2.5" fill="none" stroke="#92bdf0" stroke-width="0.9"/>
<circle cx="390.87" cy="504.01" r="2.5" fill="none" stroke="#92bdf0" stroke-width="0.9"/>
<circle cx="391.91" cy="503.69" r="2.5" fill="none" stroke="#92bdf0" stroke-width="0.9"/>
<circle cx="392.95" cy="502.66" r="2.5" fill="none" stroke="#92bdf0" stroke-width="0.9"/>
<circle cx="394" cy="502.14" r="2.5" fill="none" stroke="#92bdf0" stroke-width="0.9"/>
<circle cx="395.04" cy="500.97" r="2.5" fill="none" stroke="#92bdf0" stroke-width="0.9"/>
<circle cx="396.08" cy="500.78" r="2.5" fill="none" stroke="#92bdf0" stroke-width="0.9"/>
<circle cx="397.13" cy="500.34" r="2.5" fill="none" stroke="#92bdf0" stroke-width="0.9"/>
<circle cx="398.17" cy="499.31" r="2.5" fill="none" stroke="#92bdf0" stroke-width="0.9"/>
<circle cx="399.21" cy="498.85" r="2.5" fill="none" stroke="#92bdf0" stroke-width="0.9"/>
<circle cx="402.48" cy="496.66" r="2.5" fill="none" stroke="#92bdf0" stroke-width="0.9"/>
<circle cx="405.75" cy="493.93" r="2.5" fill="none" stroke="#92bdf0" stroke-width="0.9"/>
<circle cx="409.02" cy="492.5" r="2.5" fill="none" stroke="#92bdf0" stroke-width="0.9"/>
<circle cx="412.29" cy="490.2" r="2.5" fill="none" stroke="#92bdf0" stroke-width="0.9"/>
<circle cx="415.56" cy="487.79" r="2.5" fill="none" stroke="#92bdf0" stroke-width="0.9"/>
<circle cx="418.83" cy="485.39" r="2.5" fill="none" stroke="#92bdf0" stroke-width="0.9"/>
<circle cx="422.09" cy="484.1" r="2.5" fill="none" stroke="#92bdf0" stroke-width="0.9"/>
<circle cx="425.36" cy="481.59" r="2.5" fill="none" stroke="#92bdf0" stroke-width="0.9"/>
<circle cx="428.63" cy="479.71" r="2.5" fill="none" stroke="#92bdf0" stroke-width="0.9"/>
<circle cx="431.9" cy="477.74" r="2.5" fill="none" stroke="#92bdf0" stroke-width="0.9"/>
<circle cx="435.17" cy="475.45" r="2.5" fill="none" stroke="#92bdf0" stroke-width="0.9"/>
<circle cx="438.44" cy="473.54" r="2.5" fill="none" stroke="#92bdf0" stroke-width="0.9"/>
<circle cx="441.71" cy="470.88" r="2.5" fill="none" stroke="#92bdf0" stroke-width="0.9"/>
<circle cx="444.98" cy="469.17" r="2.5" fill="none" stroke="#92bdf0" stroke-width="0.9"/>
<circle cx="448.25" cy="466.69" r="2.5" fill="none" stroke="#92bdf0" stroke-width="0.9"/>
<circle cx="451.51" cy="465.05" r="2.5" fill="none" stroke="#92bdf0" stroke-width="0.9"/>
<circle cx="458.47" cy="460.47" r="2.5" fill="none" stroke="#92bdf0" stroke-width="0.9"/>
<circle cx="465.42" cy="455.17" r="2.5" fill="none" stroke="#92bdf0" stroke-width="0.9"/>
<circle cx="472.38" cy="450.69" r="2.5" fill="none" stroke="#92bdf0" stroke-width="0.9"/>
<circle cx="479.33" cy="446.25" r="2.5" fill="none" stroke="#92bdf0" stroke-width="0.9"/>
<circle cx="486.29" cy="442.48" r="2.5" fill="none" stroke="#92bdf0" stroke-width="0.9"/>
<circle cx="493.24" cy="437.43" r="2.5" fill="none" stroke="#92bdf0" stroke-width="0.9"/>
<circle cx="500.2" cy="433.1" r="2.5" fill="none" stroke="#92bdf0" stroke-width="0.9"/>
<circle cx="507.15" cy="428.25" r="2.5" fill="none" stroke="#92bdf0" stroke-width="0.9"/>
<circle cx="514.11" cy="423.94" r="2.5" fill="none" stroke="#92bdf0" stroke-width="0.9"/>
<circle cx="521.06" cy="419.29" r="2.5" fill="none" stroke="#92bdf0" stroke-width="0.9"/>
<circle cx="528.02" cy="414.74" r="2.5" fill="none" stroke="#92bdf0" stroke-width="0.9"/>
<circle cx="534.97" cy="410.45" r="2.5" fill="none" stroke="#92bdf0" stroke-width="0.9"/>
<circle cx="541.93" cy="405.93" r="2.5" fill="none" stroke="#92bdf0" stroke-width="0.9"/>
<circle cx="548.88" cy="401.73" r="2.5" fill="none" stroke="#92bdf0" stroke-width="0.9"/>
<circle cx="555.84" cy="396.99" r="2.5" fill="none" stroke="#92bdf0" stroke-width="0.9"/>
<circle cx="562.79" cy="392.71" r="2.5" fill="none" stroke="#92bdf0" stroke-width="0.9"/>
<circle cx="569.75" cy="388.12" r="2.5" fill="none" stroke="#92bdf0" stroke-width="0.9"/>
<circle cx="576.7" cy="383.73" r="2.5" fill="none" stroke="#92bdf0" stroke-width="0.9"/>
<circle cx="583.66" cy="378.89" r="2.5" fill="none" stroke="#92bdf0" stroke-width="0.9"/>
<circle cx="590.61" cy="373.86" r="2.5" fill="none" stroke="#92bdf0" stroke-width="0.9"/>
<circle cx="597.57" cy="370.04" r="2.5" fill="none" stroke="#92bdf0" stroke-width="0.9"/>
<circle cx="604.52" cy="365.62" r="2.5" fill="none" stroke="#92bdf0" stroke-width="0.9"/>
<circle cx="611.48" cy="361.04" r="2.5" fill="none" stroke="#92bdf0" stroke-width="0.9"/>
<circle cx="618.43" cy="356.19" r="2.5" fill="none" stroke="#92bdf0" stroke-width="0.9"/>
<circle cx="625.39" cy="351.81" r="2.5" fill="none" stroke="#92bdf0" stroke-width="0.9"/>
<circle cx="632.34" cy="346.79" r="2.5" fill="none" stroke="#92bdf0" stroke-width="0.9"/>
<circle cx="639.3" cy="342.89" r="2.5" fill="none" stroke="#92bdf0" stroke-width="0.9"/>
<circle cx="379.39" cy="431.15" r="2.8" fill="none" stroke="#f08888" stroke-width="0.8"/>
<circle cx="380.23" cy="416.52" r="2.8" fill="none" stroke="#f08888" stroke-width="0.8"/>
<circle cx="381.2" cy="404.9" r="2.8" fill="none" stroke="#f08888" stroke-width="0.8"/>
<circle cx="382.31" cy="397.21" r="2.8" fill="none" stroke="#f08888" stroke-width="0.8"/>
<circle cx="383.56" cy="389.95" r="2.8" fill="none" stroke="#f08888" stroke-width="0.8"/>
<circle cx="384.95" cy="381.24" r="2.8" fill="none" stroke="#f08888" stroke-width="0.8"/>
<circle cx="386.69" cy="376.19" r="2.8" fill="none" stroke="#f08888" stroke-width="0.8"/>
<circle cx="388.43" cy="371.25" r="2.8" fill="none" stroke="#f08888" stroke-width="0.8"/>
<circle cx="390.52" cy="367.22" r="2.8" fill="none" stroke="#f08888" stroke-width="0.8"/>
<circle cx="392.61" cy="365.3" r="2.8" fill="none" stroke="#f08888" stroke-width="0.8"/>
<circle cx="395.39" cy="364.55" r="2.8" fill="none" stroke="#f08888" stroke-width="0.8"/>
<circle cx="398.17" cy="363.48" r="2.8" fill="none" stroke="#f08888" stroke-width="0.8"/>
<circle cx="400.95" cy="360.87" r="2.8" fill="none" stroke="#f08888" stroke-width="0.8"/>
<circle cx="404.43" cy="360.94" r="2.8" fill="none" stroke="#f08888" stroke-width="0.8"/>
<circle cx="407.91" cy="359.27" r="2.8" fill="none" stroke="#f08888" stroke-width="0.8"/>
<circle cx="411.38" cy="360.09" r="2.8" fill="none" stroke="#f08888" stroke-width="0.8"/>
<circle cx="415.56" cy="358.89" r="2.8" fill="none" stroke="#f08888" stroke-width="0.8"/>
<circle cx="419.73" cy="359.69" r="2.8" fill="none" stroke="#f08888" stroke-width="0.8"/>
<circle cx="423.9" cy="359.58" r="2.8" fill="none" stroke="#f08888" stroke-width="0.8"/>
<circle cx="428.08" cy="358.32" r="2.8" fill="none" stroke="#f08888" stroke-width="0.8"/>
<circle cx="430.86" cy="359.1" r="2.8" fill="none" stroke="#f08888" stroke-width="0.8"/>
<circle cx="438.16" cy="357.41" r="2.8" fill="none" stroke="#f08888" stroke-width="0.8"/>
<circle cx="445.46" cy="356.76" r="2.8" fill="none" stroke="#f08888" stroke-width="0.8"/>
<circle cx="452.77" cy="357.63" r="2.8" fill="none" stroke="#f08888" stroke-width="0.8"/>
<circle cx="460.07" cy="356.31" r="2.8" fill="none" stroke="#f08888" stroke-width="0.8"/>
<circle cx="467.37" cy="356.46" r="2.8" fill="none" stroke="#f08888" stroke-width="0.8"/>
<circle cx="474.67" cy="356.7" r="2.8" fill="none" stroke="#f08888" stroke-width="0.8"/>
<circle cx="481.98" cy="357.12" r="2.8" fill="none" stroke="#f08888" stroke-width="0.8"/>
<circle cx="489.28" cy="356.22" r="2.8" fill="none" stroke="#f08888" stroke-width="0.8"/>
<circle cx="496.58" cy="356.01" r="2.8" fill="none" stroke="#f08888" stroke-width="0.8"/>
<circle cx="503.89" cy="357.67" r="2.8" fill="none" stroke="#f08888" stroke-width="0.8"/>
<circle cx="511.19" cy="356.58" r="2.8" fill="none" stroke="#f08888" stroke-width="0.8"/>
<circle cx="518.49" cy="357.9" r="2.8" fill="none" stroke="#f08888" stroke-width="0.8"/>
<circle cx="525.79" cy="357.9" r="2.8" fill="none" stroke="#f08888" stroke-width="0.8"/>
<circle cx="533.1" cy="356.98" r="2.8" fill="none" stroke="#f08888" stroke-width="0.8"/>
<circle cx="540.4" cy="357.26" r="2.8" fill="none" stroke="#f08888" stroke-width="0.8"/>
<circle cx="547.7" cy="357.49" r="2.8" fill="none" stroke="#f08888" stroke-width="0.8"/>
<circle cx="555" cy="357.91" r="2.8" fill="none" stroke="#f08888" stroke-width="0.8"/>
<circle cx="562.31" cy="358.04" r="2.8" fill="none" stroke="#f08888" stroke-width="0.8"/>
<circle cx="569.61" cy="358.2" r="2.8" fill="none" stroke="#f08888" stroke-width="0.8"/>
<circle cx="576.91" cy="358.74" r="2.8" fill="none" stroke="#f08888" stroke-width="0.8"/>
<circle cx="584.22" cy="359.9" r="2.8" fill="none" stroke="#f08888" stroke-width="0.8"/>
<circle cx="591.52" cy="359.22" r="2.8" fill="none" stroke="#f08888" stroke-width="0.8"/>
<circle cx="598.82" cy="359.22" r="2.8" fill="none" stroke="#f08888" stroke-width="0.8"/>
<circle cx="606.12" cy="359.95" r="2.8" fill="none" stroke="#f08888" stroke-width="0.8"/>
<circle cx="613.43" cy="359.18" r="2.8" fill="none" stroke="#f08888" stroke-width="0.8"/>
<circle cx="620.73" cy="359.52" r="2.8" fill="none" stroke="#f08888" stroke-width="0.8"/>
<circle cx="628.03" cy="361.13" r="2.8" fill="none" stroke="#f08888" stroke-width="0.8"/>
<circle cx="635.34" cy="360.54" r="2.8" fill="none" stroke="#f08888" stroke-width="0.8"/>
<path d="M378.6,512.2 L642.3,340.8" fill="none" stroke="#1a4c9c" stroke-width="2.2" stroke-linejoin="round" stroke-linecap="round" />
<path d="M379.39,431 C379.62,426.89 379.85,422.05 380.09,418.65 C380.39,414.24 380.69,410.65 380.99,407.57 C381.38,403.55 381.78,400.29 382.17,397.35 C382.52,394.75 382.87,393.02 383.22,390.96 C383.56,388.9 383.91,386.71 384.26,385 C384.63,383.16 385,381.73 385.37,380.31 C385.93,378.18 386.49,375.83 387.04,374.35 C387.92,372 388.8,370.13 389.68,368.81 C390.89,367 392.1,365.81 393.3,364.97 C395.16,363.68 397.01,363.13 398.87,362.42 C400.72,361.71 402.57,361.11 404.43,360.71 C407.21,360.12 409.99,359.7 412.77,359.44 C419.73,358.77 426.69,358.19 433.64,357.9 C447.32,357.34 461,357.03 474.67,356.88 C488.82,356.72 502.96,356.85 517.1,356.97 C528.69,357.06 540.28,357.27 551.88,357.52 C558.6,357.66 565.32,357.82 572.04,358.16 C578.07,358.46 584.1,358.94 590.13,359.44 C596.16,359.93 602.18,360.55 608.21,361.14 C613.77,361.69 619.34,362.23 624.9,362.84 C630.93,363.51 636.96,364.26 642.99,364.97" fill="none" stroke="#c40d12" stroke-width="2.6" stroke-linejoin="round" stroke-linecap="round" />
</g>
<rect x="377.5" y="301.5" width="265" height="213" fill="none" stroke="#2b2b2b" stroke-width="1.2"/>
<text transform="translate(372.3,518) scale(1,1.02) skewX(0.1)" font-size="9.8" font-weight="normal" text-anchor="end" fill="#111" stroke="#111" stroke-width="0.18">1.5</text>
<line x1="377.5" y1="471.9" x2="381.7" y2="471.9" stroke="#2b2b2b" stroke-width="1.2" />
<text transform="translate(372.3,475.4) scale(1,1.02) skewX(0.1)" font-size="9.8" font-weight="normal" text-anchor="end" fill="#111" stroke="#111" stroke-width="0.18">1.6</text>
<line x1="377.5" y1="429.3" x2="381.7" y2="429.3" stroke="#2b2b2b" stroke-width="1.2" />
<text transform="translate(372.3,432.8) scale(1,1.02) skewX(0.1)" font-size="9.8" font-weight="normal" text-anchor="end" fill="#111" stroke="#111" stroke-width="0.18">1.7</text>
<line x1="377.5" y1="386.7" x2="381.7" y2="386.7" stroke="#2b2b2b" stroke-width="1.2" />
<text transform="translate(372.3,390.2) scale(1,1.02) skewX(0.1)" font-size="9.8" font-weight="normal" text-anchor="end" fill="#111" stroke="#111" stroke-width="0.18">1.8</text>
<line x1="377.5" y1="344.1" x2="381.7" y2="344.1" stroke="#2b2b2b" stroke-width="1.2" />
<text transform="translate(372.3,347.6) scale(1,1.02) skewX(0.1)" font-size="9.8" font-weight="normal" text-anchor="end" fill="#111" stroke="#111" stroke-width="0.18">1.9</text>
<text transform="translate(372.3,305) scale(1,1.02) skewX(0.1)" font-size="9.8" font-weight="normal" text-anchor="end" fill="#111" stroke="#111" stroke-width="0.18">2.0</text>
<line x1="377.5" y1="493.2" x2="379.7" y2="493.2" stroke="#2b2b2b" stroke-width="1.2" />
<line x1="377.5" y1="450.6" x2="379.7" y2="450.6" stroke="#2b2b2b" stroke-width="1.2" />
<line x1="377.5" y1="408" x2="379.7" y2="408" stroke="#2b2b2b" stroke-width="1.2" />
<line x1="377.5" y1="365.4" x2="379.7" y2="365.4" stroke="#2b2b2b" stroke-width="1.2" />
<line x1="377.5" y1="322.8" x2="379.7" y2="322.8" stroke="#2b2b2b" stroke-width="1.2" />
<line x1="642.5" y1="514.5" x2="646.3" y2="514.5" stroke="#2b2b2b" stroke-width="1.2" />
<text transform="translate(649.7,518) scale(1,1.02) skewX(0.1)" font-size="9.8" font-weight="normal" text-anchor="start" fill="#111" stroke="#111" stroke-width="0.18">0</text>
<line x1="642.5" y1="471.9" x2="646.3" y2="471.9" stroke="#2b2b2b" stroke-width="1.2" />
<text transform="translate(649.7,475.4) scale(1,1.02) skewX(0.1)" font-size="9.8" font-weight="normal" text-anchor="start" fill="#111" stroke="#111" stroke-width="0.18">50</text>
<line x1="642.5" y1="429.3" x2="646.3" y2="429.3" stroke="#2b2b2b" stroke-width="1.2" />
<text transform="translate(649.7,432.8) scale(1,1.02) skewX(0.1)" font-size="9.8" font-weight="normal" text-anchor="start" fill="#111" stroke="#111" stroke-width="0.18">100</text>
<line x1="642.5" y1="386.7" x2="646.3" y2="386.7" stroke="#2b2b2b" stroke-width="1.2" />
<text transform="translate(649.7,390.2) scale(1,1.02) skewX(0.1)" font-size="9.8" font-weight="normal" text-anchor="start" fill="#111" stroke="#111" stroke-width="0.18">150</text>
<line x1="642.5" y1="344.1" x2="646.3" y2="344.1" stroke="#2b2b2b" stroke-width="1.2" />
<text transform="translate(649.7,347.6) scale(1,1.02) skewX(0.1)" font-size="9.8" font-weight="normal" text-anchor="start" fill="#111" stroke="#111" stroke-width="0.18">200</text>
<line x1="642.5" y1="301.5" x2="646.3" y2="301.5" stroke="#2b2b2b" stroke-width="1.2" />
<text transform="translate(649.7,305) scale(1,1.02) skewX(0.1)" font-size="9.8" font-weight="normal" text-anchor="start" fill="#111" stroke="#111" stroke-width="0.18">250</text>
<line x1="642.5" y1="493.2" x2="644.5" y2="493.2" stroke="#2b2b2b" stroke-width="1.2" />
<line x1="642.5" y1="450.6" x2="644.5" y2="450.6" stroke="#2b2b2b" stroke-width="1.2" />
<line x1="642.5" y1="408" x2="644.5" y2="408" stroke="#2b2b2b" stroke-width="1.2" />
<line x1="642.5" y1="365.4" x2="644.5" y2="365.4" stroke="#2b2b2b" stroke-width="1.2" />
<line x1="642.5" y1="322.8" x2="644.5" y2="322.8" stroke="#2b2b2b" stroke-width="1.2" />
<text transform="translate(378,527) scale(1,1.02) skewX(0.1)" font-size="9.8" font-weight="normal" text-anchor="middle" fill="#111" stroke="#111" stroke-width="0.18">0</text>
<line x1="412.77" y1="514.5" x2="412.77" y2="510.3" stroke="#2b2b2b" stroke-width="1.2" />
<text transform="translate(412.77,527) scale(1,1.02) skewX(0.1)" font-size="9.8" font-weight="normal" text-anchor="middle" fill="#111" stroke="#111" stroke-width="0.18">50</text>
<line x1="447.55" y1="514.5" x2="447.55" y2="510.3" stroke="#2b2b2b" stroke-width="1.2" />
<text transform="translate(447.55,527) scale(1,1.02) skewX(0.1)" font-size="9.8" font-weight="normal" text-anchor="middle" fill="#111" stroke="#111" stroke-width="0.18">100</text>
<line x1="482.32" y1="514.5" x2="482.32" y2="510.3" stroke="#2b2b2b" stroke-width="1.2" />
<text transform="translate(482.32,527) scale(1,1.02) skewX(0.1)" font-size="9.8" font-weight="normal" text-anchor="middle" fill="#111" stroke="#111" stroke-width="0.18">150</text>
<line x1="517.1" y1="514.5" x2="517.1" y2="510.3" stroke="#2b2b2b" stroke-width="1.2" />
<text transform="translate(517.1,527) scale(1,1.02) skewX(0.1)" font-size="9.8" font-weight="normal" text-anchor="middle" fill="#111" stroke="#111" stroke-width="0.18">200</text>
<line x1="551.88" y1="514.5" x2="551.88" y2="510.3" stroke="#2b2b2b" stroke-width="1.2" />
<text transform="translate(551.88,527) scale(1,1.02) skewX(0.1)" font-size="9.8" font-weight="normal" text-anchor="middle" fill="#111" stroke="#111" stroke-width="0.18">250</text>
<line x1="586.65" y1="514.5" x2="586.65" y2="510.3" stroke="#2b2b2b" stroke-width="1.2" />
<text transform="translate(586.65,527) scale(1,1.02) skewX(0.1)" font-size="9.8" font-weight="normal" text-anchor="middle" fill="#111" stroke="#111" stroke-width="0.18">300</text>
<line x1="621.42" y1="514.5" x2="621.42" y2="510.3" stroke="#2b2b2b" stroke-width="1.2" />
<text transform="translate(621.42,527) scale(1,1.02) skewX(0.1)" font-size="9.8" font-weight="normal" text-anchor="middle" fill="#111" stroke="#111" stroke-width="0.18">350</text>
<line x1="395.39" y1="514.5" x2="395.39" y2="512.3" stroke="#2b2b2b" stroke-width="1.2" />
<line x1="430.16" y1="514.5" x2="430.16" y2="512.3" stroke="#2b2b2b" stroke-width="1.2" />
<line x1="464.94" y1="514.5" x2="464.94" y2="512.3" stroke="#2b2b2b" stroke-width="1.2" />
<line x1="499.71" y1="514.5" x2="499.71" y2="512.3" stroke="#2b2b2b" stroke-width="1.2" />
<line x1="534.49" y1="514.5" x2="534.49" y2="512.3" stroke="#2b2b2b" stroke-width="1.2" />
<line x1="569.26" y1="514.5" x2="569.26" y2="512.3" stroke="#2b2b2b" stroke-width="1.2" />
<line x1="604.04" y1="514.5" x2="604.04" y2="512.3" stroke="#2b2b2b" stroke-width="1.2" />
<line x1="638.81" y1="514.5" x2="638.81" y2="512.3" stroke="#2b2b2b" stroke-width="1.2" />
<text transform="translate(510,543.7) scale(1,1.02) skewX(0.1)" font-size="9.9" font-weight="normal" text-anchor="middle" fill="#111" stroke="#111" stroke-width="0.18">Temperature (K)</text>
<text transform="translate(346.3,402.2) rotate(-90) scale(1,1.04)" font-size="9.1" text-anchor="middle" fill="#1a1a1a"><tspan font-style="italic">&#967;</tspan><tspan font-style="italic" font-size="6.5" dy="1.5">m</tspan><tspan dy="-1.5">&#183;</tspan><tspan font-style="italic">T</tspan> (emu&#183;K&#183;mol<tspan font-size="6.5" dy="-3.5">&#8722;1</tspan><tspan dy="3.5">)</tspan></text>
<text transform="translate(682.4,408) rotate(-90) scale(1,1.04)" font-size="9.6" text-anchor="middle" fill="#1a1a1a">1/<tspan font-style="italic">&#967;</tspan><tspan font-style="italic" font-size="6.5" dy="1.5">m</tspan><tspan dy="-1.5"> (mol&#183;emu</tspan><tspan font-size="6.5" dy="-3.5">&#8722;1</tspan><tspan dy="3.5">)</tspan></text>
<line x1="400.4" y1="318.8" x2="426" y2="318.8" stroke="#c40d12" stroke-width="2" />
<circle cx="414.3" cy="318.8" r="2.6" fill="#fff" stroke="#f08888" stroke-width="0.9"/>
<text transform="translate(428,322.3) scale(1,1) skewX(0.1)" font-size="10.5" font-weight="bold" text-anchor="start" fill="#c40d12" ><tspan font-style="italic">&#967;</tspan><tspan font-style="italic" font-size="7" dy="2">m</tspan><tspan dy="-2">&#183;</tspan><tspan font-style="italic">T</tspan></text>
<line x1="488" y1="318.8" x2="514.5" y2="318.8" stroke="#1a4c9c" stroke-width="2" />
<circle cx="502.2" cy="318.8" r="2.6" fill="#fff" stroke="#9cc3f0" stroke-width="0.9"/>
<text transform="translate(517.1,321.5) scale(1,1) skewX(0.1)" font-size="10.5" font-weight="bold" text-anchor="start" fill="#1a4590" >1/<tspan font-style="italic">&#967;</tspan><tspan font-style="italic" font-size="7" dy="2">m</tspan></text>
<text transform="translate(620.2,455.2) scale(1,1) skewX(0.1)" font-size="10.8" font-weight="bold" text-anchor="end" fill="#193f80" ><tspan font-style="italic">&#952;</tspan><tspan font-size="7.5" dy="2">CW</tspan><tspan dy="-2"> = &#8211;0.32 K</tspan></text>
<text transform="translate(620.2,474.2) scale(1,1) skewX(0.1)" font-size="10.8" font-weight="bold" text-anchor="end" fill="#c4151c" ><tspan font-style="italic">J</tspan>/<tspan font-style="italic">k</tspan><tspan font-size="7.5" dy="2">B</tspan><tspan dy="-2"> = +534 K</tspan></text>
<text transform="translate(620.2,493.8) scale(1,1) skewX(0.1)" font-size="10.8" font-weight="bold" text-anchor="end" fill="#c4151c" >&#916;<tspan font-style="italic">E</tspan><tspan font-size="7.5" dy="2">D-Q</tspan><tspan dy="-2"> = 3.18 kcal/mol</tspan></text>
<text transform="translate(-0.5,299.6) scale(1,1) skewX(0.1)" font-size="11" font-weight="bold" text-anchor="start" fill="#000" >c</text>
<text transform="translate(130.7,312.8) scale(1,1) skewX(0.1)" font-size="9.3" font-weight="bold" text-anchor="start" fill="#000" >Mulliken Spin Populations</text>
</svg>
</body></html>
